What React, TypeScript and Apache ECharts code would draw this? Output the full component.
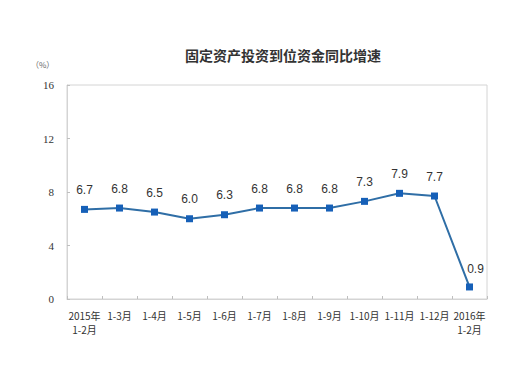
import React, { useEffect, useRef } from "react";
import * as echarts from "echarts";

const categories = [
  "2015年\n1-2月",
  "1-3月",
  "1-4月",
  "1-5月",
  "1-6月",
  "1-7月",
  "1-8月",
  "1-9月",
  "1-10月",
  "1-11月",
  "1-12月",
  "2016年\n1-2月",
];
const values = [6.7, 6.8, 6.5, 6.0, 6.3, 6.8, 6.8, 6.8, 7.3, 7.9, 7.7, 0.9];
const titleText = "固定资产投资到位资金同比增速";
const unitText = "（%）";

export default function App() {
  const ref = useRef<HTMLDivElement>(null);
  useEffect(() => {
    if (!ref.current) return;
    const chart = echarts.init(ref.current, undefined, { renderer: "svg" });
    const seriesData = values.map((v, i) =>
      i === values.length - 1 ? { value: v, label: { offset: [6, 2] } } : v
    );
    chart.setOption({
      animation: false,
      backgroundColor: "#ffffff",
      title: {
        text: titleText,
        left: 278,
        top: 43,
        textAlign: "center",
        textStyle: {
          fontSize: 14,
          fontWeight: "bold",
          color: "#333333",
          fontFamily: "Noto Sans CJK SC",
        },
      },
      graphic: [
        {
          type: "text",
          left: 31,
          top: 60,
          style: {
            text: unitText,
            fontSize: 8,
            fill: "#666666",
            fontFamily: "Noto Sans CJK SC",
          },
        },
      ],
      grid: {
        left: 67,
        right: 35,
        top: 85,
        bottom: 68,
        show: true,
        borderColor: "#d4d4d4",
        borderWidth: 1,
      },
      xAxis: {
        type: "category",
        data: categories,
        boundaryGap: true,
        axisLine: { lineStyle: { color: "#d4d4d4" } },
        axisTick: { show: true, inside: true, length: 3, lineStyle: { color: "#bfbfbf" } },
        axisLabel: {
          interval: 0,
          fontSize: 10,
          color: "#333333",
          fontFamily: "Noto Sans CJK SC",
          lineHeight: 14,
          margin: 9,
        },
      },
      yAxis: {
        type: "value",
        min: 0,
        max: 16,
        interval: 4,
        splitLine: { show: false },
        axisLine: { show: true, lineStyle: { color: "#d4d4d4" } },
        axisTick: { show: true, inside: true, length: 3, lineStyle: { color: "#bfbfbf" } },
        axisLabel: {
          fontSize: 11,
          color: "#333333",
          fontFamily: "Liberation Serif",
          margin: 13,
        },
      },
      series: [
        {
          type: "line",
          data: seriesData,
          symbol: "rect",
          symbolSize: 7,
          itemStyle: { color: "#1660b8" },
          lineStyle: { color: "#2f6ea6", width: 2 },
          label: {
            show: true,
            position: "top",
            distance: 10,
            fontSize: 12,
            color: "#333333",
            fontFamily: "Liberation Sans",
            formatter: (p: any) => Number(p.value).toFixed(1),
          },
        },
      ],
    });
    return () => chart.dispose();
  }, []);
  return (
    <div
      ref={ref}
      style={{ position: "absolute", left: 0, top: 0, width: 522, height: 367 }}
    />
  );
}
